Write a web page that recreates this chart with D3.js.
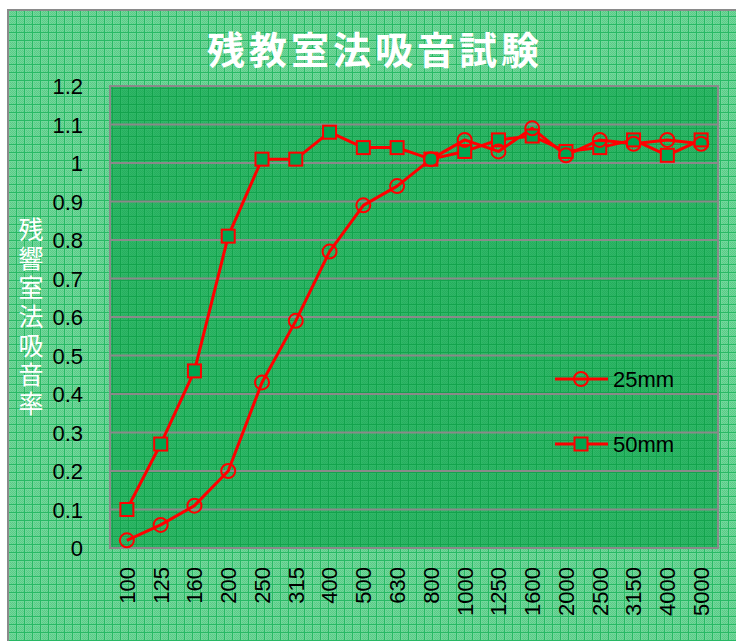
<!DOCTYPE html>
<html><head><meta charset="utf-8">
<script src="https://cdn.jsdelivr.net/npm/d3@7"></script>
<style>html,body{margin:0;padding:0;background:#fff;overflow:hidden}</style>
</head><body>
<svg id="c" width="736" height="641"></svg>
<script>
const categories = ["100","125","160","200","250","315","400","500","630","800","1000","1250","1600","2000","2500","3150","4000","5000"];
const series25 = [0.02,0.06,0.11,0.20,0.43,0.59,0.77,0.89,0.94,1.01,1.06,1.03,1.09,1.02,1.06,1.05,1.06,1.05];
const series50 = [0.10,0.27,0.46,0.81,1.01,1.01,1.08,1.04,1.04,1.01,1.03,1.06,1.07,1.03,1.04,1.06,1.02,1.06];
const yTicks = [0,0.1,0.2,0.3,0.4,0.5,0.6,0.7,0.8,0.9,1,1.1,1.2];
const seriesNames = ["25mm","50mm"];
const title = "残教室法吸音試験";
const yTitle = "残響室法吸音率";

const svg = d3.select("#c");
const defs = svg.append("defs");
function makePattern(id, base, alt, line){
  const p = defs.append("pattern").attr("id",id).attr("patternUnits","userSpaceOnUse").attr("width",8).attr("height",8);
  p.append("rect").attr("width",8).attr("height",8).attr("fill",base);
  for(let i=0;i<8;i++)for(let j=0;j<8;j++){ if((i+j)%2===0 && i>1 && j>1) p.append("rect").attr("x",i).attr("y",j).attr("width",1).attr("height",1).attr("fill",alt);}
  p.append("rect").attr("x",0).attr("y",0).attr("width",8).attr("height",1).attr("fill",line);
  p.append("rect").attr("x",0).attr("y",0).attr("width",1).attr("height",8).attr("fill",line);
}
makePattern("bgp","#72d79b","#5acb87","#28b965");
makePattern("plp","#2fb867","#26ad5e","#13a34d");

svg.append("rect").attr("x",0).attr("y",0).attr("width",736).attr("height",641).attr("fill","#fff");
svg.append("rect").attr("x",8).attr("y",10).attr("width",740).attr("height",650).attr("fill","url(#bgp)").attr("stroke","#8a8a8a").attr("stroke-width",2);

const m = {l:110, t:86, r:718, b:548};
const x = d3.scaleBand().domain(categories).range([m.l,m.r]);
const y = d3.scaleLinear().domain([0,1.2]).range([m.b,m.t]);

svg.append("rect").attr("x",m.l).attr("y",m.t).attr("width",m.r-m.l).attr("height",m.b-m.t).attr("fill","url(#plp)");

svg.append("g").selectAll("line").data(yTicks).join("line")
  .attr("x1",m.l).attr("x2",m.r).attr("y1",d=>y(d)).attr("y2",d=>y(d))
  .attr("stroke","#8a8a8a").attr("stroke-width",2);
svg.append("rect").attr("x",m.l).attr("y",m.t).attr("width",m.r-m.l).attr("height",m.b-m.t).attr("fill","none").attr("stroke","#8a8a8a").attr("stroke-width",2);

const numFont = "Liberation Sans, Arial, sans-serif";
const yAxis = d3.axisLeft(y).tickValues(yTicks).tickSize(0).tickPadding(0).tickFormat(d=>String(d));
const ya = svg.append("g").attr("transform",`translate(${m.l-27},0)`).call(yAxis);
ya.select(".domain").remove();
ya.selectAll("text").attr("font-family",numFont).attr("font-size",22).attr("fill","#000").attr("dy","0.36em");

const xAxis = d3.axisBottom(x).tickSize(0).tickPadding(0);
const xa = svg.append("g").attr("transform",`translate(0,${m.b})`).call(xAxis);
xa.select(".domain").remove();
xa.selectAll("text").attr("font-family",numFont).attr("font-size",22).attr("fill","#000")
  .attr("transform","rotate(-90)").attr("text-anchor","end").attr("x",-19).attr("y",0).attr("dy","0.36em");

const line = d3.line().x((d,i)=>x(categories[i])+x.bandwidth()/2).y(d=>y(d));
svg.append("path").datum(series50).attr("d",line).attr("fill","none").attr("stroke","#ff0000").attr("stroke-width",3).attr("stroke-linejoin","round");
svg.append("path").datum(series25).attr("d",line).attr("fill","none").attr("stroke","#ff0000").attr("stroke-width",3).attr("stroke-linejoin","round");

svg.append("g").selectAll("rect").data(series50).join("rect")
  .attr("x",(d,i)=>x(categories[i])+x.bandwidth()/2-6.5).attr("y",d=>y(d)-6.5)
  .attr("width",13).attr("height",13).attr("fill","#00a651").attr("stroke","#ff0000").attr("stroke-width",2);
svg.append("g").selectAll("circle").data(series25).join("circle")
  .attr("cx",(d,i)=>x(categories[i])+x.bandwidth()/2).attr("cy",d=>y(d)).attr("r",7)
  .attr("fill","none").attr("stroke","#ff0000").attr("stroke-width",2);

const lg = svg.append("g");
const legY = [379,444];
seriesNames.forEach((n,k)=>{
  lg.append("line").attr("x1",555).attr("x2",608).attr("y1",legY[k]).attr("y2",legY[k]).attr("stroke","#ff0000").attr("stroke-width",3);
  if(k===0) lg.append("circle").attr("cx",581).attr("cy",legY[k]).attr("r",7).attr("fill","none").attr("stroke","#ff0000").attr("stroke-width",2);
  else lg.append("rect").attr("x",574.5).attr("y",legY[k]-6.5).attr("width",13).attr("height",13).attr("fill","#00a651").attr("stroke","#ff0000").attr("stroke-width",2);
  lg.append("text").attr("x",613).attr("y",legY[k]).attr("dy","0.36em").attr("font-family",numFont).attr("font-size",22).attr("fill","#000").text(n);
});

svg.append("text").attr("x",375).attr("y",50).attr("dy","0.36em").attr("text-anchor","middle")
  .attr("font-family","Noto Sans CJK JP, sans-serif").attr("font-weight","bold").attr("font-size",38).attr("letter-spacing",4).attr("fill","#fff").text(title);

svg.append("text").attr("x",31).attr("y",217).attr("writing-mode","tb").attr("glyph-orientation-vertical",0)
  .attr("letter-spacing",4).attr("font-family","Noto Sans CJK JP, sans-serif").attr("font-size",25).attr("fill","#fff").text(yTitle);
</script>
</body></html>
